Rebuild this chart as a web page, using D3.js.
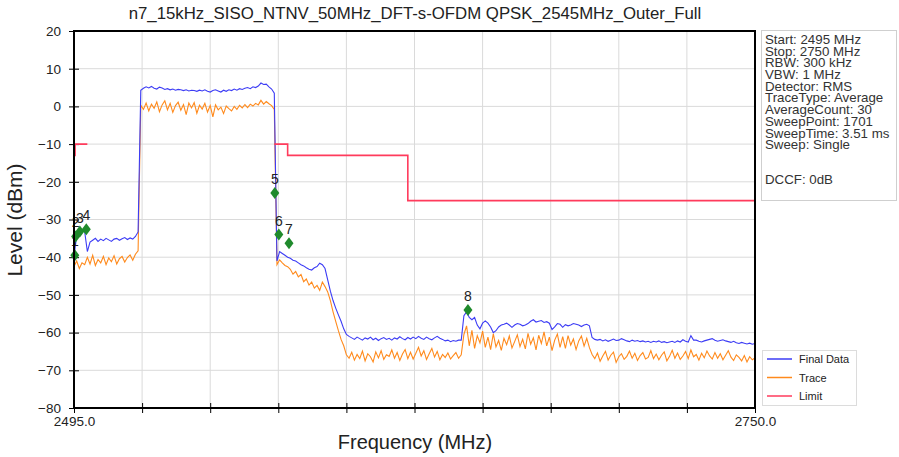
<!DOCTYPE html>
<html><head><meta charset="utf-8">
<script src="https://cdn.jsdelivr.net/npm/d3@7"></script>
<style>body{margin:0;background:#fff;}svg{display:block;font-family:"Liberation Sans",Arial,sans-serif;}</style>
</head><body><svg id="c" width="899" height="457"></svg>
<script>
const title = "n7_15kHz_SISO_NTNV_50MHz_DFT-s-OFDM QPSK_2545MHz_Outer_Full";
const freqStart = 2495, freqStep = 1;
const finalData = [
-40,-34,-33.5,-33,-33.2,-38.5,-36,-35.5,-35,-35.8,
-35.2,-35.6,-35,-35.4,-35.8,-35.2,-35,-35.5,-35.1,-34.8,
-35.3,-34.9,-35.2,-34.5,-33.3,4.3,4.8,5.2,4.9,5.3,
4.8,4.6,5.1,4.9,4.5,4.7,4.4,4.6,4.3,4.5,
4.4,4.2,4.4,4.1,4.3,4.2,4.0,4.3,4.1,4.4,
4.0,3.8,4.2,4.4,4.1,3.8,4.3,4.0,4.4,4.2,
4.6,4.3,4.7,4.5,4.8,5.0,4.7,5.2,5.0,5.4,
6.2,5.8,5.9,5.2,4.6,3.5,-41,-38.5,-39,-39.5,
-40,-40.3,-40.8,-41,-41.5,-42,-42.3,-42.8,-43.2,-43.4,
-42.8,-42.5,-41.6,-42,-43,-46,-49,-51.5,-53.5,-55.3,
-57,-59,-60.5,-61,-61.4,-61.8,-61.2,-61.6,-62.0,-61.4,
-61.7,-61.2,-61.9,-61.5,-62.1,-61.6,-61.3,-61.8,-61.5,-62.0,
-61.4,-61.7,-61.1,-61.6,-61.9,-61.3,-61.7,-61.2,-61.6,-61.0,
-61.5,-61.8,-61.2,-61.6,-61.9,-61.4,-61.0,-61.5,-61.8,-62.2,
-62.0,-62.4,-62.1,-62.3,-62.0,-62.0,-55.5,-54.5,-56,-56.6,
-56,-58,-59,-57.5,-56.9,-57.5,-58.5,-60,-59.5,-58.5,
-58,-57.8,-57.5,-58,-58.6,-58,-57.6,-57.8,-58.2,-58.0,
-57.6,-57.0,-56.6,-57.2,-57.0,-56.8,-57.3,-57.1,-57.5,-59.2,
-58.5,-57.6,-57.8,-58.6,-57.9,-58.2,-58.0,-57.6,-57.8,-58.0,
-58.4,-58.0,-57.8,-58.2,-61.3,-61.8,-62.0,-61.8,-62.2,-61.9,
-62.3,-62.0,-61.7,-62.1,-62.0,-61.6,-61.9,-62.2,-62.4,-62.0,
-62.3,-62.1,-62.4,-62.2,-62.5,-62.3,-62.6,-62.3,-62.5,-62.2,
-62.6,-62.4,-62.7,-62.5,-62.3,-62.6,-62.2,-62.5,-61.9,-62.3,
-62.5,-60.8,-62.0,-62.0,-62.3,-62.5,-62.2,-62.0,-61.8,-61.6,
-62.0,-62.3,-62.1,-61.9,-62.2,-62.4,-62.6,-62.3,-62.7,-62.9,
-62.6,-62.8,-63.0,-62.8,-63.1,-62.9
];
const traceData = [
-42.5,-41,-43,-41.5,-42,-40,-41.8,-39.5,-42.2,-40.6,
-41.5,-39.8,-42,-40.2,-41.2,-39.6,-41.8,-40.4,-39.8,-41.3,
-40.1,-39.4,-40.8,-39.2,-38.3,0.3,-0.8,0.9,-1.2,0.6,
-0.5,1.2,-1.4,0.4,1.5,-0.9,0.8,-1.6,0.2,1.1,
-1.0,0.5,-2.2,0.9,-0.4,1.0,-1.8,0.3,-0.7,0.8,
-1.5,0.2,-2.8,0.4,-0.9,-0.2,-1.9,0.1,-0.6,-1.2,
0.0,-0.8,0.3,-0.4,0.5,-0.3,0.6,0.1,0.8,0.4,
1.6,0.6,1.3,0.7,0.2,-0.8,-42,-40.7,-41.5,-42.2,
-42.5,-43.2,-44.5,-43.8,-45.2,-44.6,-46.5,-45.8,-47.4,-46.6,
-48.2,-47.5,-48.8,-46.6,-47.8,-49.2,-51.5,-54.5,-57,-59.5,
-61.8,-63.5,-65.9,-66.8,-65.2,-67.3,-65.8,-66.9,-64.9,-67.5,
-65.6,-66.4,-67.8,-65.1,-66.7,-64.8,-67.1,-65.9,-66.3,-64.6,
-66.8,-65.3,-67.4,-65.7,-64.5,-66.9,-65.2,-67.0,-65.5,-63.9,
-66.2,-64.8,-67.1,-65.6,-64.2,-66.5,-65.0,-67.2,-65.8,-66.6,
-65.4,-67.0,-66.1,-65.3,-66.8,-65.9,-60.5,-58.2,-63.5,-59.4,
-64.2,-60.8,-62.7,-59.6,-63.9,-61.2,-64.5,-60.3,-63.8,-62.1,
-64.7,-61.5,-63.2,-60.9,-64.1,-62.4,-60.6,-63.7,-61.8,-64.3,
-60.2,-63.1,-61.4,-64.6,-60.7,-62.9,-59.8,-63.5,-61.2,-64.8,
-62.0,-60.4,-63.9,-61.1,-64.2,-60.8,-63.3,-61.7,-64.5,-62.2,
-60.9,-63.6,-61.5,-64.0,-65.8,-66.9,-65.4,-67.6,-66.2,-65.0,
-67.3,-66.0,-65.2,-67.9,-66.4,-65.6,-67.1,-66.3,-64.9,-66.8,
-65.5,-67.4,-66.1,-65.3,-67.0,-66.6,-64.8,-66.9,-65.7,-67.2,
-66.0,-65.1,-67.5,-66.3,-64.7,-66.8,-65.4,-67.1,-66.2,-65.0,
-66.9,-64.6,-66.4,-65.8,-67.3,-65.5,-66.7,-64.9,-66.2,-67.0,
-65.3,-66.8,-65.6,-67.2,-66.0,-64.8,-66.5,-67.4,-65.9,-66.6,
-67.5,-66.1,-67.8,-66.4,-67.2,-66.7
];
// Limit line segments (null = break)
const limitFreq  = [2495, 2495.4, 2495.4, 2500, null, 2570, 2575, 2575, 2620, 2620, 2750];
const limitLevel = [-13,  -13,    -10,    -10,  null, -10,  -10,  -13,  -13,  -25,  -25];
const markerLabels = ["1","2","3","4","5","6","7","8"];
const markerFreq  = [2495.3, 2495.6, 2497.2, 2499.6, 2570.2, 2571.7, 2575.5, 2642.5];
const markerLevel = [-39.5, -34.5, -33.2, -32.6, -23, -34, -36.3, -54];
const yTicks = [20,10,0,-10,-20,-30,-40,-50,-60,-70,-80];
const xTicks = [2495, 2520.5, 2546, 2571.5, 2597, 2622.5, 2648, 2673.5, 2699, 2724.5, 2750];
const xTickLabels = {2495:"2495.0", 2750:"2750.0"};
const infoLines = ["Start: 2495 MHz","Stop: 2750 MHz","RBW: 300 kHz","VBW: 1 MHz","Detector: RMS","TraceType: Average","AverageCount: 30","SweepPoint: 1701","SweepTime: 3.51 ms","Sweep: Single","","","DCCF: 0dB"];
const seriesNames = ["Final Data","Trace","Limit"];
const seriesColors = ["#3c3cf5","#ff8a1c","#ff3b5c"];

const svg = d3.select("#c");
const L=74, R=755, T=31, B=408;
const x = d3.scaleLinear().domain([2495,2750]).range([L,R]);
const y = d3.scaleLinear().domain([-80,20]).range([B,T]);

// grid
svg.append("g").selectAll("line").data(xTicks.slice(1,-1)).join("line")
  .attr("x1",d=>x(d)).attr("x2",d=>x(d)).attr("y1",T).attr("y2",B)
  .attr("stroke","#dadada").attr("stroke-width",1);
svg.append("g").selectAll("line").data(yTicks.slice(1,-1)).join("line")
  .attr("x1",L).attr("x2",R).attr("y1",d=>y(d)).attr("y2",d=>y(d))
  .attr("stroke","#dadada").attr("stroke-width",1);

// axes
const yAxis = d3.axisLeft(y).tickValues(yTicks).tickSize(5).tickPadding(8);
const gy = svg.append("g").attr("transform",`translate(${L},0)`).call(yAxis);
gy.select(".domain").remove();
gy.selectAll("text").attr("font-size",13.5).attr("fill","#222");
gy.selectAll(".tick line").attr("x2",-5).attr("x1",5).attr("stroke","#000");

const xAxis = d3.axisBottom(x).tickValues(xTicks).tickSize(5).tickPadding(3)
  .tickFormat(d=>xTickLabels[d]||"");
const gx = svg.append("g").attr("transform",`translate(0,${B})`).call(xAxis);
gx.select(".domain").remove();
gx.selectAll("text").attr("font-size",13.5).attr("fill","#222");
gx.selectAll(".tick line").attr("y1",-5).attr("y2",5).attr("stroke","#000");

// traces
const pts = arr => arr.map((v,i)=>[freqStart+i*freqStep, v]);
const line = d3.line().x(d=>x(d[0])).y(d=>y(d[1]));
svg.append("clipPath").attr("id","pc").append("rect").attr("x",L).attr("y",T).attr("width",R-L).attr("height",B-T);
const pg = svg.append("g").attr("clip-path","url(#pc)");
pg.append("path").datum(pts(traceData)).attr("d",line).attr("fill","none").attr("stroke",seriesColors[1]).attr("stroke-width",1.1);
pg.append("path").datum(pts(finalData)).attr("d",line).attr("fill","none").attr("stroke",seriesColors[0]).attr("stroke-width",1.1);
const limitPts = limitFreq.map((f,i)=>[f,limitLevel[i]]);
pg.append("path").datum(limitPts).attr("d",d3.line().defined(d=>d[0]!==null).x(d=>x(d[0])).y(d=>y(d[1])))
  .attr("fill","none").attr("stroke",seriesColors[2]).attr("stroke-width",1.6);

// markers
const mg = svg.append("g");
markerFreq.forEach((f,i)=>{
  const cx=x(f), cy=y(markerLevel[i]);
  mg.append("path").attr("d",`M${cx},${cy-6}L${cx+4.5},${cy}L${cx},${cy+6}L${cx-4.5},${cy}Z`).attr("fill","#1f8a2c");
  mg.append("text").attr("x",cx).attr("y",cy-9).attr("text-anchor","middle").attr("font-size",14).attr("fill","#222").text(markerLabels[i]);
});

// frame
svg.append("rect").attr("x",L).attr("y",T).attr("width",R-L).attr("height",B-T).attr("fill","none").attr("stroke","#000").attr("stroke-width",2);

// title & labels
svg.append("text").attr("x",415).attr("y",19).attr("text-anchor","middle").attr("font-size",16.8).attr("fill","#222").text(title);
svg.append("text").attr("transform","translate(22,220) rotate(-90)").attr("text-anchor","middle").attr("font-size",21).attr("fill","#222").text("Level (dBm)");
svg.append("text").attr("x",415).attr("y",449).attr("text-anchor","middle").attr("font-size",20).attr("fill","#222").text("Frequency (MHz)");

// info box
svg.append("rect").attr("x",761.5).attr("y",30.5).attr("width",135).attr("height",170).attr("fill","#fff").attr("stroke","#cfcfcf");
const it = svg.append("g").attr("transform","translate(765,0) scale(1.11,1)")
  .append("text").attr("font-size",12).attr("fill","#333");
infoLines.forEach((s,i)=>it.append("tspan").attr("x",0).attr("y",44+i*11.7).text(s));

// legend
svg.append("rect").attr("x",762.5).attr("y",350.5).attr("width",94).attr("height",55).attr("fill","#fff").attr("stroke","#dcdcdc");
seriesNames.forEach((n,i)=>{
  const yy=359+i*18.5;
  svg.append("line").attr("x1",767).attr("x2",792).attr("y1",yy).attr("y2",yy).attr("stroke",seriesColors[i]).attr("stroke-width",1.5);
  svg.append("text").attr("x",799).attr("y",yy+4).attr("font-size",11).attr("fill","#222").text(n);
});
</script></body></html>
